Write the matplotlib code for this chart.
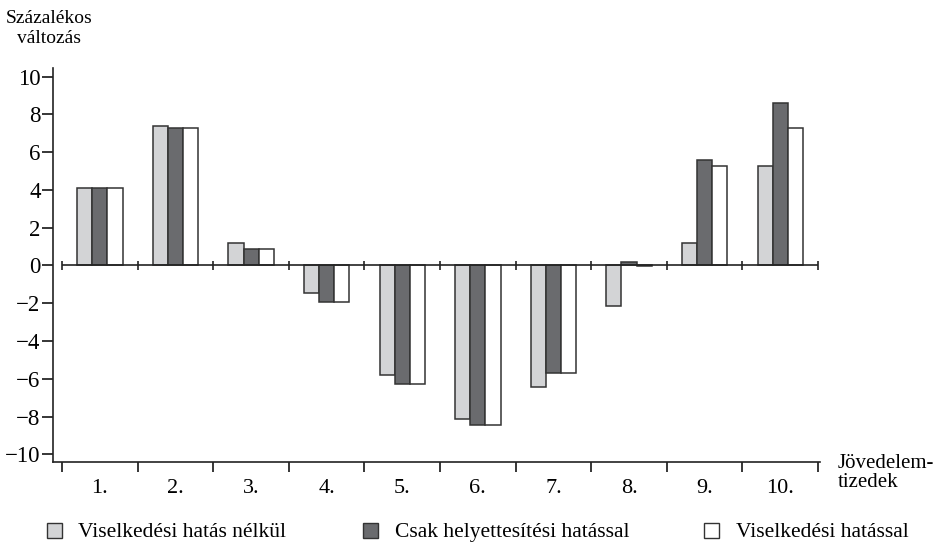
import matplotlib
matplotlib.use("Agg")
import matplotlib.pyplot as plt
import numpy as np
from matplotlib.patches import Rectangle

plt.rcParams["font.family"] = ["Liberation Serif", "DejaVu Serif"]
plt.rcParams["font.size"] = 15.5

tizedek = ["1.", "2.", "3.", "4.", "5.", "6.", "7.", "8.", "9.", "10."]
nelkul = [4.1, 7.4, 1.2, -1.45, -5.8, -8.15, -6.45, -2.15, 1.2, 5.25]
helyettesitesi = [4.1, 7.3, 0.85, -1.95, -6.25, -8.45, -5.7, 0.2, 5.6, 8.6]
viselkedesi = [4.1, 7.3, 0.85, -1.95, -6.25, -8.45, -5.7, -0.05, 5.25, 7.25]

sorozatok = [
    ("Viselkedési hatás nélkül", nelkul, "#d3d4d6"),
    ("Csak helyettesítési hatással", helyettesitesi, "#6a6b6e"),
    ("Viselkedési hatással", viselkedesi, "#ffffff"),
]

W, H = 939, 543
fig = plt.figure(figsize=(W / 100, H / 100), dpi=100)
ax = fig.add_axes([53 / W, 1 - 462 / H, (820 - 53) / W, (462 - 68) / H])

x = np.arange(len(tizedek))
szel = 0.2
for i, (nev, ertek, szin) in enumerate(sorozatok):
    ax.bar(x + (i - 1) * szel, ertek, width=szel, color=szin,
           edgecolor="#333333", linewidth=1.1, zorder=2)

# nulla vonal a tizedhatárokon lévő jelekkel
hatarok = np.arange(len(tizedek) + 1) - 0.5
ax.hlines(0, hatarok[0], hatarok[-1], color="#222222", lw=1.2, zorder=3)
ax.vlines(hatarok, -0.25, 0.25, color="#222222", lw=1.2, zorder=3)

ax.set_xlim(-0.62, 9.526)
ax.set_ylim(-10.4, 10.45)
ax.set_yticks(np.arange(-10, 11, 2))
ax.set_xticks(hatarok)
ax.set_xticklabels([])
ax.set_xticks(x, minor=True)
ax.set_xticklabels(tizedek, minor=True, fontsize=16)
ax.tick_params(axis="x", which="major", direction="out", length=7, width=1.1)
ax.tick_params(axis="x", which="minor", length=0, pad=12)
ax.tick_params(axis="y", direction="out", length=8, width=1.1, pad=1,
               labelsize=16.5)
for s in ("top", "right"):
    ax.spines[s].set_visible(False)
for s in ("left", "bottom"):
    ax.spines[s].set_linewidth(1.2)
    ax.spines[s].set_color("#222222")

fig.text(49 / W, 1 - 23 / H, "Százalékos", ha="center", va="baseline",
         fontsize=14)
fig.text(49 / W, 1 - 43 / H, "változás", ha="center", va="baseline",
         fontsize=14)
fig.text(838 / W, 1 - 468 / H, "Jövedelem-", ha="left", va="baseline",
         fontsize=15)
fig.text(838 / W, 1 - 487 / H, "tizedek", ha="left", va="baseline",
         fontsize=15)

# jelmagyarázat
jel_x = [47, 363, 704]
szoveg_x = [78, 395, 736]
for (nev, _, szin), jx, sx in zip(sorozatok, jel_x, szoveg_x):
    fig.add_artist(Rectangle((jx / W, 1 - 538 / H), 15 / W, 15 / H,
                             transform=fig.transFigure, facecolor=szin,
                             edgecolor="#333333", linewidth=1.0))
    fig.text(sx / W, 1 - 537 / H, nev, ha="left", va="baseline")

fig.savefig("out.png", dpi=100)
